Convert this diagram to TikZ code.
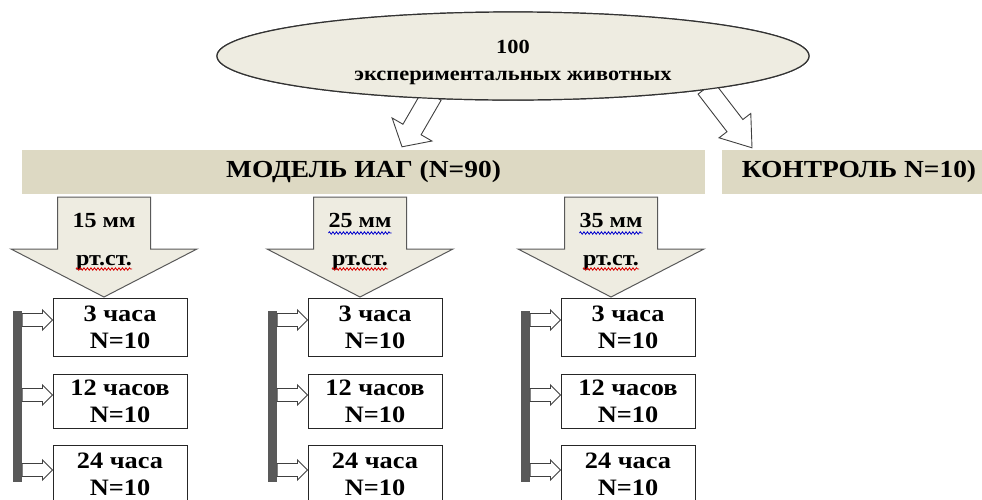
\documentclass[tikz,border=0pt]{standalone}
\usepackage{fontspec}
\setmainfont{Liberation Serif}[FakeStretch=1.12]
\usepackage{tikz}
\usetikzlibrary{shapes,calc,decorations.pathmorphing}
\definecolor{paleback}{HTML}{EEECE1}
\definecolor{barback}{HTML}{DDD9C3}
\definecolor{darkbar}{HTML}{595959}
\tikzstyle{cloud}=[ellipse,draw=black!80,line width=1.2pt,fill=paleback,minimum width=592pt,minimum height=88pt,inner sep=0pt]
\tikzstyle{cloudtext}=[anchor=base,inner sep=0pt,font=\fontsize{20}{24}\selectfont\bfseries]
\tikzstyle{groupbar}=[rectangle,fill=barback,minimum height=44pt,inner sep=0pt,font=\fontsize{24.5}{28}\selectfont\bfseries]
\tikzstyle{timebox}=[rectangle,draw=black!85,line width=1pt,fill=white,minimum width=134pt,align=center,inner sep=0pt,font=\fontsize{23.5}{27}\selectfont\bfseries]
\tikzstyle{sidebar}=[rectangle,fill=darkbar,minimum width=9pt,minimum height=171pt,inner sep=0pt]
\tikzstyle{hollow}=[draw=black!75,line width=0.9pt,fill=white]
\tikzstyle{bigarrow}=[draw=black!65,line width=1pt,fill=paleback]
\tikzstyle{pressure}=[anchor=base,inner sep=0pt,font=\fontsize{21.5}{24}\selectfont\bfseries]
\tikzstyle{redwave}=[draw=red!85!black,line width=0.8pt,decorate,decoration={snake,amplitude=1.2pt,segment length=3.5pt}]
\tikzstyle{bluewave}=[redwave,draw=blue!80!black]

% block arrow: [style] from, to, half shaft, half head, head length
\newcommand{\fatarrow}[6][hollow]{%
  \path (#2) coordinate (fa-a) (#3) coordinate (fa-b);
  \path ($(fa-b)!#6!(fa-a)$) coordinate (fa-h);
  \draw[#1] ($(fa-a)!#4!90:(fa-b)$) -- ($(fa-h)!#4!90:(fa-b)$) -- ($(fa-h)!#5!90:(fa-b)$)
    -- (fa-b) -- ($(fa-h)!#5!-90:(fa-b)$) -- ($(fa-h)!#4!-90:(fa-b)$) -- ($(fa-a)!#4!-90:(fa-b)$) -- cycle;}

\begin{document}
\begin{tikzpicture}[x=1pt,y=-1pt]
\useasboundingbox (0,0) rectangle (982,499);
\clip (0,0) rectangle (982,499);

    % groups
    \node[groupbar,minimum width=683pt] (model) at (363.5,172) {МОДЕЛЬ ИАГ (N=90)};
    \node[groupbar,minimum width=274pt] (control) at (859,172) {КОНТРОЛЬ N=10)};

    \node[cloud] (animals) at (513,56) {};
    \fatarrow{$(animals.center)+(-81,39)$}{$(model.north)+(38.5,-3)$}{10.5pt}{23pt}{20pt}
    \fatarrow{$(animals.center)+(193,32)$}{$(control.north)+(-107,-2)$}{10pt}{20pt}{28pt}
    \node[cloud] at (animals) {};
    \node[cloudtext] (count) at (513,53) {100};
    \node[cloudtext] (animalslbl) at (513,80) {экспериментальных животных};

    % pressure levels and time points
    \foreach \c/\bx/\ax/\mm in {1/120/104/15, 2/375/360/25, 3/628/611/35} {
        \fatarrow[bigarrow]{\ax,197}{\ax,297}{46.5pt}{93pt}{48pt}
        \node[pressure] (mm\c) at (\ax,227) {\mm\ мм};
        \node[pressure] (rt\c) at (\ax,265) {рт.ст.};
        \draw[redwave] ([yshift=-4pt]rt\c.base west) -- ([yshift=-4pt]rt\c.base east);
        \ifnum\c>1
            \draw[bluewave] ([yshift=-6pt]mm\c.base west) -- ([yshift=-6pt]mm\c.base east);
        \fi

        \node[sidebar] (bar\c) at (\bx-102.5,396.5) {};
        \foreach \r/\by/\bh/\hrs/\ay in {1/327.5/58/{3 часа}/320, 2/401/54/{12 часов}/395, 3/474/58/{24 часа}/470} {
            \node[timebox,minimum height=\bh pt] (box\c\r) at (\bx,\by) {\hrs\\N=10};
            \fatarrow{bar\c.east |- 0,\ay}{box\c\r.west |- 0,\ay}{6.5pt}{10pt}{10pt}
        }
    }

\end{tikzpicture}
\end{document}
